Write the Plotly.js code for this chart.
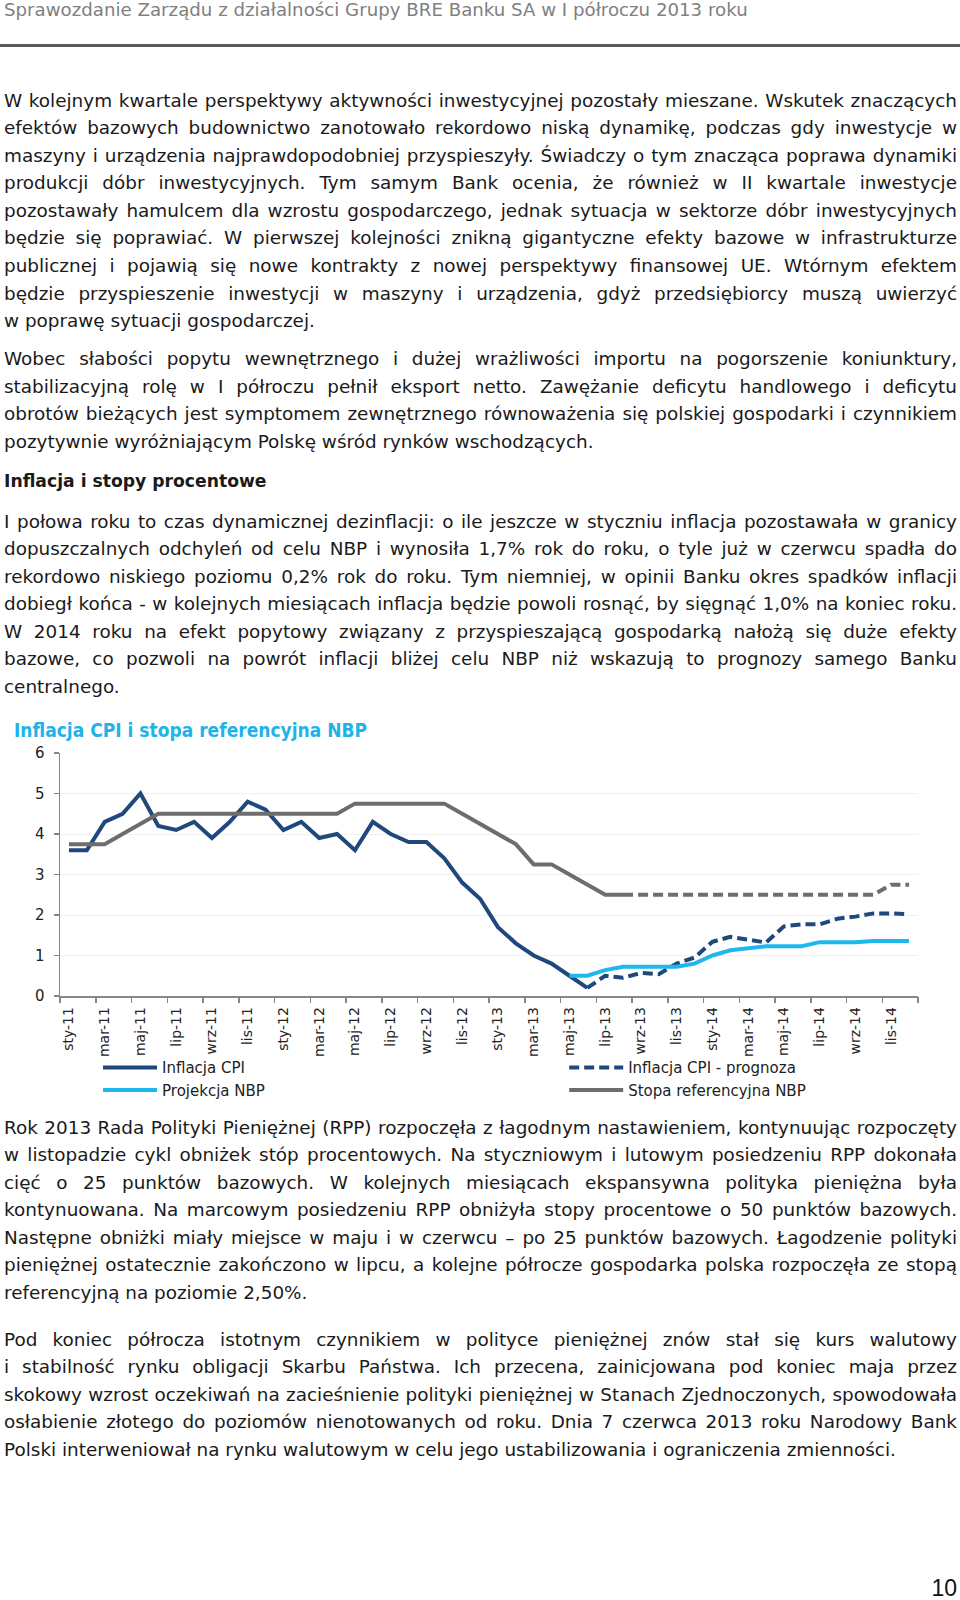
<!DOCTYPE html>
<html>
<head>
<meta charset="utf-8">
<script src="https://cdn.plot.ly/plotly-3.0.1.min.js"></script>
<style>
html,body{margin:0;padding:0;background:#fff;}
#page{position:relative;width:960px;height:1600px;overflow:hidden;font-family:'DejaVu Sans','Noto Sans',sans-serif;color:#1a1a1a;}
.hdr{position:absolute;left:4px;top:-1px;font-size:18.2px;color:#808080;line-height:22px;white-space:nowrap;}
.rule{position:absolute;left:0;top:44px;width:960px;height:3px;background:#595959;}
.para{position:absolute;left:4px;width:953px;font-size:18.4px;line-height:27.55px;}
.para .ln{display:block;white-space:nowrap;text-align:left;}
.para.ready .ln.j{text-align:justify;text-align-last:justify;}
.para.h{font-weight:bold;font-size:17.2px;}
#chart{position:absolute;left:0;top:710px;width:960px;height:420px;}
.pnum{position:absolute;right:3px;top:1574px;font-family:'Liberation Sans',Arial,sans-serif;font-size:23px;line-height:28px;color:#111;}
</style>
</head>
<body>
<div id="page">
<div class="hdr">Sprawozdanie Zarządu z działalności Grupy BRE Banku SA w I półroczu 2013 roku</div>
<div class="rule"></div>

<div class="para" style="top:86.7px">
<span class="ln j">W kolejnym kwartale perspektywy aktywności inwestycyjnej pozostały mieszane. Wskutek znaczących</span>
<span class="ln j">efektów bazowych budownictwo zanotowało rekordowo niską dynamikę, podczas gdy inwestycje w</span>
<span class="ln j">maszyny i urządzenia najprawdopodobniej przyspieszyły. Świadczy o tym znacząca poprawa dynamiki</span>
<span class="ln j">produkcji dóbr inwestycyjnych. Tym samym Bank ocenia, że również w II kwartale inwestycje</span>
<span class="ln j">pozostawały hamulcem dla wzrostu gospodarczego, jednak sytuacja w sektorze dóbr inwestycyjnych</span>
<span class="ln j">będzie się poprawiać. W pierwszej kolejności znikną gigantyczne efekty bazowe w infrastrukturze</span>
<span class="ln j">publicznej i pojawią się nowe kontrakty z nowej perspektywy finansowej UE. Wtórnym efektem</span>
<span class="ln j">będzie przyspieszenie inwestycji w maszyny i urządzenia, gdyż przedsiębiorcy muszą uwierzyć</span>
<span class="ln">w poprawę sytuacji gospodarczej.</span>
</div>

<div class="para" style="top:345.3px">
<span class="ln j">Wobec słabości popytu wewnętrznego i dużej wrażliwości importu na pogorszenie koniunktury,</span>
<span class="ln j">stabilizacyjną rolę w I półroczu pełnił eksport netto. Zawężanie deficytu handlowego i deficytu</span>
<span class="ln j">obrotów bieżących jest symptomem zewnętrznego równoważenia się polskiej gospodarki i czynnikiem</span>
<span class="ln">pozytywnie wyróżniającym Polskę wśród rynków wschodzących.</span>
</div>

<div class="para h" style="top:467.7px">
<span class="ln">Inflacja i stopy procentowe</span>
</div>

<div class="para" style="top:507.5px">
<span class="ln j">I połowa roku to czas dynamicznej dezinflacji: o ile jeszcze w styczniu inflacja pozostawała w granicy</span>
<span class="ln j">dopuszczalnych odchyleń od celu NBP i wynosiła 1,7% rok do roku, o tyle już w czerwcu spadła do</span>
<span class="ln j">rekordowo niskiego poziomu 0,2% rok do roku. Tym niemniej, w opinii Banku okres spadków inflacji</span>
<span class="ln j">dobiegł końca - w kolejnych miesiącach inflacja będzie powoli rosnąć, by sięgnąć 1,0% na koniec roku.</span>
<span class="ln j">W 2014 roku na efekt popytowy związany z przyspieszającą gospodarką nałożą się duże efekty</span>
<span class="ln j">bazowe, co pozwoli na powrót inflacji bliżej celu NBP niż wskazują to prognozy samego Banku</span>
<span class="ln">centralnego.</span>
</div>

<div id="chart"></div>

<div class="para" style="top:1113.5px">
<span class="ln j">Rok 2013 Rada Polityki Pieniężnej (RPP) rozpoczęła z łagodnym nastawieniem, kontynuując rozpoczęty</span>
<span class="ln j">w listopadzie cykl obniżek stóp procentowych. Na styczniowym i lutowym posiedzeniu RPP dokonała</span>
<span class="ln j">cięć o 25 punktów bazowych. W kolejnych miesiącach ekspansywna polityka pieniężna była</span>
<span class="ln j">kontynuowana. Na marcowym posiedzeniu RPP obniżyła stopy procentowe o 50 punktów bazowych.</span>
<span class="ln j">Następne obniżki miały miejsce w maju i w czerwcu – po 25 punktów bazowych. Łagodzenie polityki</span>
<span class="ln j">pieniężnej ostatecznie zakończono w lipcu, a kolejne półrocze gospodarka polska rozpoczęła ze stopą</span>
<span class="ln">referencyjną na poziomie 2,50%.</span>
</div>

<div class="para" style="top:1325.7px">
<span class="ln j">Pod koniec półrocza istotnym czynnikiem w polityce pieniężnej znów stał się kurs walutowy</span>
<span class="ln j">i stabilność rynku obligacji Skarbu Państwa. Ich przecena, zainicjowana pod koniec maja przez</span>
<span class="ln j">skokowy wzrost oczekiwań na zacieśnienie polityki pieniężnej w Stanach Zjednoczonych, spowodowała</span>
<span class="ln j">osłabienie złotego do poziomów nienotowanych od roku. Dnia 7 czerwca 2013 roku Narodowy Bank</span>
<span class="ln">Polski interweniował na rynku walutowym w celu jego ustabilizowania i ograniczenia zmienności.</span>
</div>

<div class="pnum">10</div>
</div>

<script>
// ---- data ----
const months = [
  'sty-11','lut-11','mar-11','kwi-11','maj-11','cze-11','lip-11','sie-11','wrz-11','paź-11','lis-11','gru-11',
  'sty-12','lut-12','mar-12','kwi-12','maj-12','cze-12','lip-12','sie-12','wrz-12','paź-12','lis-12','gru-12',
  'sty-13','lut-13','mar-13','kwi-13','maj-13','cze-13','lip-13','sie-13','wrz-13','paź-13','lis-13','gru-13',
  'sty-14','lut-14','mar-14','kwi-14','maj-14','cze-14','lip-14','sie-14','wrz-14','paź-14','lis-14','gru-14'
];
const tickLabels = [
  'sty-11','mar-11','maj-11','lip-11','wrz-11','lis-11',
  'sty-12','mar-12','maj-12','lip-12','wrz-12','lis-12',
  'sty-13','mar-13','maj-13','lip-13','wrz-13','lis-13',
  'sty-14','mar-14','maj-14','lip-14','wrz-14','lis-14'
];
// Inflacja CPI: sty-11 .. cze-13
const cpiActual = [3.6,3.6,4.3,4.5,5.0,4.2,4.1,4.3,3.9,4.3,4.8,4.6,
                   4.1,4.3,3.9,4.0,3.6,4.3,4.0,3.8,3.8,3.4,2.8,2.4,
                   1.7,1.3,1.0,0.8,0.5,0.2];
// Inflacja CPI - prognoza: cze-13 .. gru-14
const cpiForecast = [0.2,0.5,0.45,0.57,0.54,0.8,0.95,
                     1.34,1.46,1.39,1.32,1.72,1.77,1.77,1.91,1.96,2.04,2.04,2.02];
// Projekcja NBP: maj-13 .. gru-14
const nbpProjection = [0.5,0.5,0.64,0.72,0.72,0.72,0.72,0.8,
                       1.0,1.13,1.18,1.23,1.23,1.23,1.33,1.33,1.33,1.36,1.36,1.36];
// Stopa referencyjna NBP: sty-11 .. sie-13
const refRate = [3.75,3.75,3.75,4.0,4.25,4.5,4.5,4.5,4.5,4.5,4.5,4.5,
                 4.5,4.5,4.5,4.5,4.75,4.75,4.75,4.75,4.75,4.75,4.5,4.25,
                 4.0,3.75,3.25,3.25,3.0,2.75,2.5,2.5];
// Stopa referencyjna - prognoza: sie-13 .. gru-14
const refRateForecast = [2.5,2.5,2.5,2.5,2.5,2.5,2.5,2.5,2.5,2.5,2.5,2.5,2.5,2.5,2.5,2.75,2.75];

const seriesNames = ['Inflacja CPI','Inflacja CPI - prognoza','Projekcja NBP','Stopa referencyjna NBP'];
const chartTitle = 'Inflacja CPI i stopa referencyjna NBP';

// ---- text fitting for justified lines ----
(function(){
  const LIMIT = 952;
  document.querySelectorAll('.para').forEach(p=>{
    p.querySelectorAll('.ln').forEach(s=>{
      const r = document.createRange(); r.selectNodeContents(s);
      const w = r.getBoundingClientRect().width;
      if (w > LIMIT) {
        const n = s.textContent.length;
        s.style.letterSpacing = ((LIMIT - w - 2)/n) + 'px';
      }
    });
    p.classList.add('ready');
  });
})();

// ---- chart ----
const FONT = "'DejaVu Sans','Noto Sans',sans-serif";
const TFONT = "'DejaVu Sans Condensed','DejaVu Sans',sans-serif";
const NAVY = '#1F497D', CYAN = '#1DB8EE', GRAY = '#6D6D6D';
const n0 = months.length - cpiForecast.length;
const p0 = months.length - nbpProjection.length;
const r0 = months.length - refRateForecast.length;

const data = [
  {type:'scatter', mode:'lines', name:seriesNames[0], x:months.slice(0,cpiActual.length), y:cpiActual,
   line:{color:NAVY, width:4}, legend:'legend', legendrank:1},
  {type:'scatter', mode:'lines', name:seriesNames[1], x:months.slice(n0), y:cpiForecast,
   line:{color:NAVY, width:4, dash:'10px,5px'}, legend:'legend2', legendrank:1},
  {type:'scatter', mode:'lines', name:seriesNames[2], x:months.slice(p0), y:nbpProjection,
   line:{color:CYAN, width:4}, legend:'legend', legendrank:2},
  {type:'scatter', mode:'lines', name:seriesNames[3], x:months.slice(0,refRate.length), y:refRate,
   line:{color:GRAY, width:4}, legend:'legend2', legendrank:2},
  {type:'scatter', mode:'lines', name:seriesNames[3]+' - prognoza', x:months.slice(r0), y:refRateForecast,
   line:{color:GRAY, width:4, dash:'10px,5px'}, showlegend:false},
  {type:'scatter', mode:'lines', x:[], y:[], xaxis:'x2', showlegend:false, hoverinfo:'skip'}
];

const H = 420;
const layout = {
  width:960, height:H,
  margin:{l:60, r:42.3, t:43.3, b:H-285.7, pad:0},
  paper_bgcolor:'rgba(0,0,0,0)', plot_bgcolor:'rgba(0,0,0,0)',
  font:{family:FONT, size:15, color:'#222'},
  showlegend:true,
  title:{text:chartTitle, font:{family:TFONT, size:19, color:'#21B3E8', weight:'bold'},
         x:14/960, xanchor:'left', xref:'container', y:1-20.5/H, yref:'container', yanchor:'middle'},
  xaxis:{type:'category', categoryorder:'array', categoryarray:months, range:[-0.5,47.5],
         tickmode:'array', tickvals:tickLabels, ticktext:tickLabels, tickangle:-90,
         ticks:'outside', ticklen:4, tickcolor:'rgba(0,0,0,0)', ticklabelstandoff:0,
         showline:true, linecolor:'#868686', linewidth:1.5, showgrid:false, zeroline:false,
         tickfont:{family:FONT, size:14, color:'#222'}},
  xaxis2:{overlaying:'x', anchor:'y', type:'linear', range:[-0.5,47.5], tickmode:'linear', tick0:-0.5, dtick:2,
          ticks:'outside', ticklen:6, tickcolor:'#868686', tickwidth:1.5, showticklabels:false,
          showgrid:false, zeroline:false, showline:false},
  yaxis:{range:[0,6], tickmode:'linear', tick0:0, dtick:1, ticks:'outside', ticklen:5, tickcolor:'#868686', tickwidth:1.5,
         showline:true, linecolor:'#868686', linewidth:1.5, gridcolor:'#F0F0F0', gridwidth:1, zeroline:false,
         ticklabelstandoff:6, tickfont:{family:FONT, size:15, color:'#222'}},
  legend:{x:(98-60)/857.7, xanchor:'left', y:-0.2277, yanchor:'top', orientation:'v', bgcolor:'rgba(0,0,0,0)',
          borderwidth:0, itemwidth:54, font:{family:FONT, size:15, color:'#222'}, traceorder:'normal'},
  legend2:{x:(564-60)/857.7, xanchor:'left', y:-0.2277, yanchor:'top', orientation:'v', bgcolor:'rgba(0,0,0,0)',
          borderwidth:0, itemwidth:54, font:{family:FONT, size:15, color:'#222'}, traceorder:'normal'}
};

Plotly.newPlot('chart', data, layout, {staticPlot:true, displayModeBar:false}).then(gd=>{
  gd.querySelectorAll('.legendlines path').forEach(p=>p.setAttribute('d','M5,0h54'));
});
</script>
</body>
</html>
